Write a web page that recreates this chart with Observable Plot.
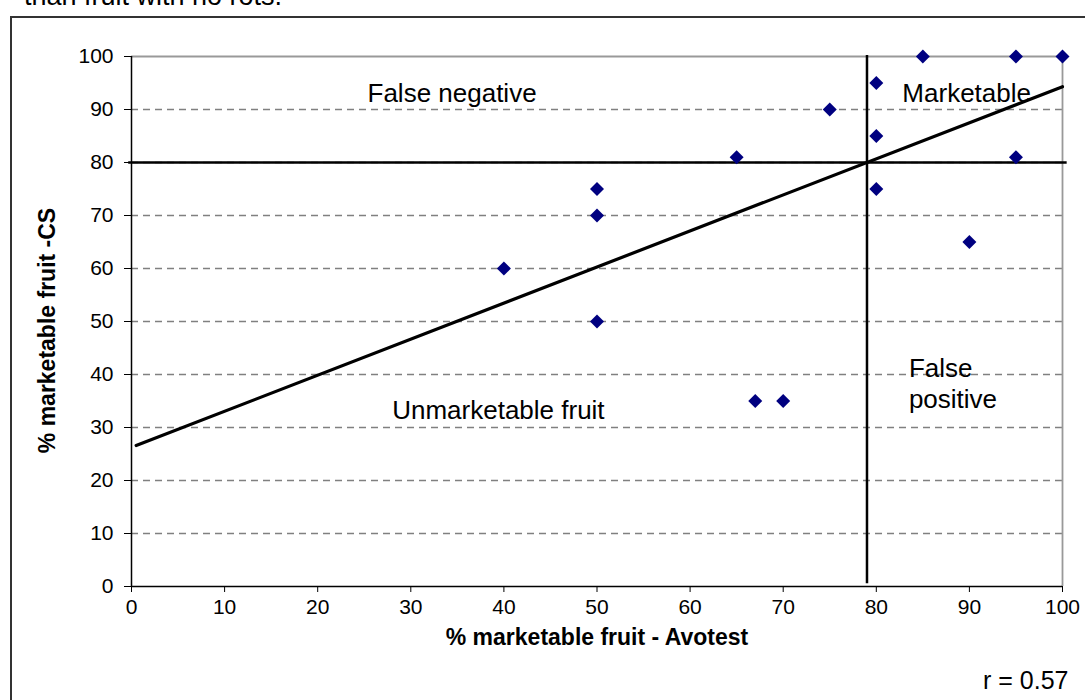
<!DOCTYPE html>
<html>
<head>
<meta charset="utf-8">
<script src="https://cdn.jsdelivr.net/npm/d3@7"></script>
<script src="https://cdn.jsdelivr.net/npm/@observablehq/plot@0.6"></script>
<style>
  html, body { margin: 0; padding: 0; background: #fff; overflow: hidden; width: 1085px; height: 700px; }
  #wrap { position: relative; width: 1085px; height: 700px; overflow: hidden; }
  #topnote { position: absolute; right: 803px; top: -17px; font: 27px/27px "Liberation Sans", Arial, sans-serif; white-space: nowrap; color: #000; }
  #border { position: absolute; left: 10px; top: 16px; width: 1200px; height: 800px; border: 2px solid #333; pointer-events: none; }
  #chart { position: absolute; left: 0; top: 0; }
</style>
</head>
<body>
<div id="wrap">
  <div id="topnote">than fruit with no rots.</div>
  <div id="border"></div>
  <div id="chart"></div>
</div>
<script>
// Data: % marketable fruit (Avotest) vs % marketable fruit (CS)
const avotest = [40, 50, 50, 50, 65, 67, 70, 75, 80, 80, 80, 85, 90, 95, 95, 100];
const cs      = [60, 75, 70, 50, 81, 35, 35, 90, 95, 85, 75, 100, 65, 100, 81, 100];

// Fitted trend line endpoints
const trendX = [0.5, 100];
const trendY = [26.6, 94.3];

// Threshold lines
const thresholdX = 79;
const thresholdY = 80;

// Tick values
const xTicks = [0, 10, 20, 30, 40, 50, 60, 70, 80, 90, 100];
const yTicks = [0, 10, 20, 30, 40, 50, 60, 70, 80, 90, 100];
const gridTicks = [10, 20, 30, 40, 50, 60, 70, 80, 90];

// Quadrant annotations
const noteText = ["False negative", "Marketable", "False\npositive", "Unmarketable fruit"];
const noteX = [25.35, 82.8, 83.5, 28.0];
const noteY = [95.6, 95.6, 43.75, 35.8];

const xTitle = "% marketable fruit - Avotest";
const yTitle = "% marketable fruit -CS";
const rText = "r = 0.57";

const points = avotest.map((x, i) => ({x, y: cs[i]}));
const trend = trendX.map((x, i) => ({x, y: trendY[i]}));
const notes = noteText.map((t, i) => ({text: t, x: noteX[i], y: noteY[i]}));

const chart = Plot.plot({
  width: 1085,
  height: 700,
  marginLeft: 131,
  marginRight: 23,
  marginTop: 56,
  marginBottom: 114,
  style: {fontFamily: "'Liberation Sans', Arial, sans-serif", fontSize: "21px", color: "#000", background: "transparent", overflow: "visible"},
  x: {domain: [0, 100]},
  y: {domain: [0, 100]},
  marks: [
    Plot.gridY(gridTicks, {stroke: "#808080", strokeOpacity: 1, strokeDasharray: "7,5", strokeWidth: 1.5}),
    Plot.ruleY([100], {stroke: "#999", strokeWidth: 1.8}),
    Plot.ruleX([100], {stroke: "#999", strokeWidth: 1.8}),
    Plot.axisY({ticks: yTicks, tickSize: 7, tickPadding: 11, label: null, stroke: "#000", fontSize: 21}),
    Plot.axisX({ticks: xTicks, tickSize: 6, tickPadding: 7, label: null, stroke: "#000", fontSize: 21}),
    Plot.ruleX([0], {stroke: "#000", strokeWidth: 1.5}),
    Plot.ruleY([0], {stroke: "#000", strokeWidth: 1.5}),
    Plot.line(trend, {x: "x", y: "y", stroke: "#000", strokeWidth: 3.2}),
    Plot.ruleY([thresholdY], {x1: -0.3, x2: 100.5, stroke: "#000", strokeWidth: 2.5}),
    Plot.ruleX([thresholdX], {y1: 0.5, y2: 100.2, stroke: "#000", strokeWidth: 2.5}),
    Plot.dot(points, {x: "x", y: "y", symbol: "diamond2", r: 6.3, fill: "#000080", stroke: "none"}),
    Plot.text(notes, {x: "x", y: "y", text: "text", textAnchor: "start", lineAnchor: "top", fontSize: 26, lineHeight: 1.2, fill: "#000"}),
    Plot.text([xTitle], {frameAnchor: "bottom", dy: 51, textAnchor: "middle", lineAnchor: "middle", fontWeight: "bold", fontSize: 23, fill: "#000"}),
    Plot.text([yTitle], {frameAnchor: "left", dx: -84, dy: 9, rotate: -90, textAnchor: "middle", lineAnchor: "middle", fontWeight: "bold", fontSize: 23, fill: "#000"}),
    Plot.text([rText], {frameAnchor: "bottom-right", dx: 6, dy: 94, textAnchor: "end", lineAnchor: "middle", fontSize: 25, fill: "#000"})
  ]
});
document.getElementById("chart").appendChild(chart);
</script>
</body>
</html>
